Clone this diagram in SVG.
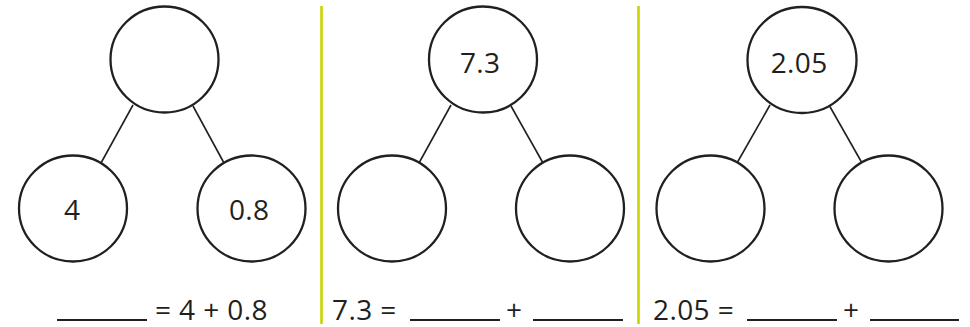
<svg xmlns="http://www.w3.org/2000/svg" width="970" height="327" viewBox="0 0 970 327">
<style>
.c{fill:#fff;stroke:#231f20;stroke-width:2.3}
.l{stroke:#231f20;stroke-width:1.6}
.u{stroke:#231f20;stroke-width:2}
.d{stroke:#c8d400;stroke-width:2.6}
.t{font-family:"Open Sans","Noto Sans",sans-serif;font-size:28px;letter-spacing:0.4px;fill:#231f20}
.m{text-anchor:middle}
</style>
<rect width="970" height="327" fill="#fff"/>
<g id="dividers">
<line class="d" x1="321.5" y1="6" x2="321.5" y2="324"/>
<line class="d" x1="638.5" y1="6" x2="638.5" y2="324"/>
</g>
<g id="connectors">
<line class="l" x1="133" y1="105" x2="101" y2="163"/>
<line class="l" x1="193" y1="106" x2="224" y2="163"/>
<line class="l" x1="451" y1="105" x2="419" y2="163"/>
<line class="l" x1="511" y1="106" x2="543" y2="163"/>
<line class="l" x1="770" y1="105" x2="737" y2="163"/>
<line class="l" x1="829" y1="105" x2="862" y2="163"/>
</g>
<g id="p1-top"><ellipse class="c" cx="164.5" cy="59.5" rx="54" ry="53"/></g>
<g id="p1-left"><ellipse class="c" cx="73" cy="208.5" rx="54" ry="53"/><text class="t m" x="72.2" y="220">4</text></g>
<g id="p1-right"><ellipse class="c" cx="251.5" cy="208.5" rx="54" ry="53"/><text class="t m" x="249.2" y="220">0.8</text></g>
<g id="p1-eq">
<line class="u" x1="57" y1="320" x2="147" y2="320"/>
<text class="t" x="155" y="320">= 4 + 0.8</text>
</g>
<g id="p2-top"><ellipse class="c" cx="483" cy="59.5" rx="54" ry="53"/><text class="t m" x="480.2" y="73">7.3</text></g>
<g id="p2-left"><ellipse class="c" cx="392" cy="208.5" rx="54" ry="53"/></g>
<g id="p2-right"><ellipse class="c" cx="570" cy="208.5" rx="54" ry="53"/></g>
<g id="p2-eq">
<text class="t" x="332" y="320">7.3 =</text>
<line class="u" x1="410" y1="320" x2="500" y2="320"/>
<text class="t" x="506" y="320">+</text>
<line class="u" x1="533" y1="320" x2="623" y2="320"/>
</g>
<g id="p3-top"><ellipse class="c" cx="802" cy="60" rx="54.5" ry="53"/><text class="t m" x="799.2" y="73">2.05</text></g>
<g id="p3-left"><ellipse class="c" cx="710.5" cy="208.5" rx="54" ry="53"/></g>
<g id="p3-right"><ellipse class="c" cx="888.5" cy="208.5" rx="54" ry="53"/></g>
<g id="p3-eq">
<text class="t" x="653" y="320">2.05 =</text>
<line class="u" x1="747" y1="320" x2="837" y2="320"/>
<text class="t" x="843" y="320">+</text>
<line class="u" x1="870" y1="320" x2="959" y2="320"/>
</g>
</svg>
